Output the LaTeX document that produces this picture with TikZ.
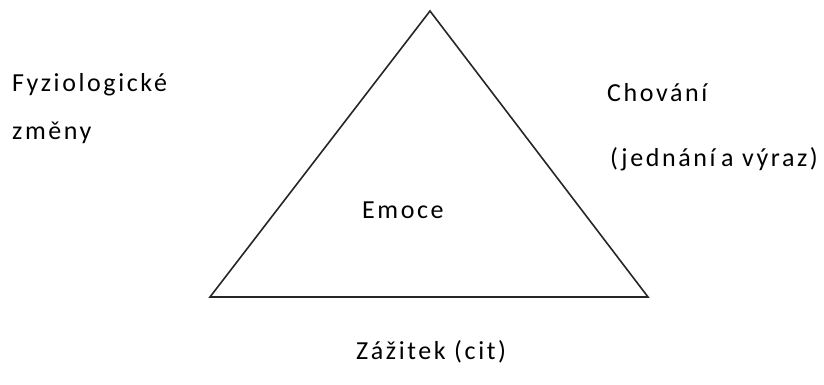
\documentclass[tikz,border=0pt]{standalone}
\usepackage{fontspec}
\setmainfont{Carlito}[LetterSpace=10]
\begin{document}
\begin{tikzpicture}[x=1pt,y=1pt,
  lbl/.style={anchor=base west,inner sep=0pt,font=\fontsize{26}{31}\selectfont},
  edge/.style={draw=black!85,line width=1.6pt,line join=miter}]
\useasboundingbox (0,0) rectangle (824,385);
% triangle corners
\coordinate (top) at (430,374);
\coordinate (bl) at (210,88);
\coordinate (br) at (648,88);
\draw[edge] (top) -- (bl) -- (br) -- cycle;
% labels
\node[lbl] (fyz) at (12,293) {Fyziologické};
\node[lbl] (zm) at (12,245) {změny};
\node[lbl] (chov) at (607,283) {Chování};
\node[lbl] (jedn) at (610,218) {(jednání\hspace{-3pt} a výraz)};
\node[lbl] (emo) at (362,166) {Emoce};
\node[lbl] (zaz) at (356,25) {Zážitek (cit)};
\end{tikzpicture}
\end{document}
